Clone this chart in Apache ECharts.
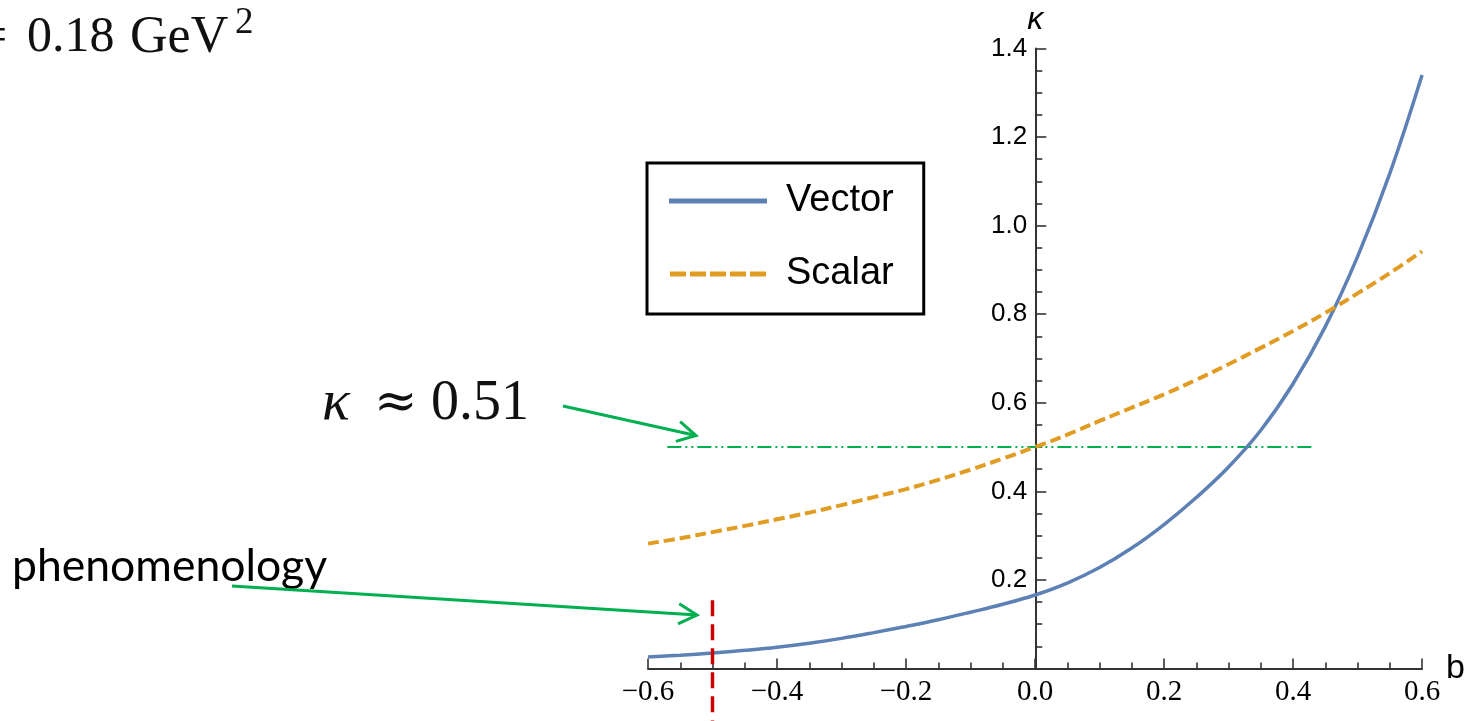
<!DOCTYPE html>
<html>
<head>
<meta charset="utf-8">
<script src="https://cdn.jsdelivr.net/npm/echarts@6/dist/echarts.min.js"></script>
<style>
html,body{margin:0;padding:0;background:#fff;}
#chart{width:1468px;height:721px;}
</style>
</head>
<body>
<div id="chart"></div>
<script>
// ---- data ----
const bValues = [-0.6,-0.55,-0.5,-0.45,-0.4,-0.35,-0.3,-0.25,-0.2,-0.15,-0.1,-0.05,0,0.05,0.1,0.15,0.2,0.25,0.3,0.35,0.4,0.45,0.5,0.55,0.6];
const vectorKappa = [0.026,0.030,0.035,0.041,0.048,0.057,0.068,0.081,0.095,0.110,0.127,0.145,0.166,0.193,0.228,0.272,0.325,0.386,0.455,0.538,0.643,0.772,0.930,1.118,1.340];
const scalarKappa = [0.282,0.294,0.308,0.322,0.337,0.352,0.369,0.387,0.405,0.426,0.449,0.474,0.500,0.528,0.559,0.589,0.619,0.652,0.687,0.724,0.762,0.803,0.847,0.893,0.942];
const kappaLineB = [-0.57, 0.43];
const kappaLineValue = [0.5, 0.5];
const phenoLineB = [-0.5, -0.5];
const phenoLineValue = [0.154, -0.118];
const yTicks = [0.2,0.4,0.6,0.8,1.0,1.2,1.4];
const seriesNames = ['Vector','Scalar'];

const GREEN = '#00B050';
const BLUE = '#5E81B5';
const ORANGE = '#E19C24';
function pairs(xs, ys){ return xs.map((x,i)=>[x, ys[i]]); }
function arrow(x1,y1,x2,y2,head,ang){
  const a = Math.atan2(y2-y1, x2-x1);
  const p1=[x2-head*Math.cos(a-ang), y2-head*Math.sin(a-ang)];
  const p2=[x2-head*Math.cos(a+ang), y2-head*Math.sin(a+ang)];
  return [
    {type:'polyline', shape:{points:[[x1,y1],[x2,y2]]}, style:{stroke:GREEN, lineWidth:3, fill:null}},
    {type:'polyline', shape:{points:[p1,[x2,y2],p2]}, style:{stroke:GREEN, lineWidth:3, fill:null}}
  ];
}

const gridLeft = 648, gridWidth = 774.5;
const chart = echarts.init(document.getElementById('chart'), null, {renderer:'canvas'});
const option = {
  animation:false,
  backgroundColor:'#fff',
  grid:{left:gridLeft, top:48.5, width:gridWidth, height:620, containLabel:false},
  xAxis:{
    type:'value', min:-0.6, max:0.6, interval:0.2,
    name:'b', nameLocation:'end', nameGap:10,
    nameTextStyle:{fontFamily:'Liberation Sans', fontSize:34, color:'#000', verticalAlign:'middle'},
    axisLine:{onZero:true, lineStyle:{color:'#333', width:2}},
    axisTick:{inside:true, length:10, lineStyle:{color:'#333', width:1.6}},
    minorTick:{show:true, splitNumber:4, length:6, lineStyle:{color:'#333', width:1.6}},
    splitLine:{show:false},
    axisLabel:{margin:9, showMinLabel:true, showMaxLabel:true, fontFamily:'Liberation Serif', fontSize:29, color:'#000',
      formatter:v=>{const r=Math.round(v*10)/10; return (r<0?'\u2212':'')+Math.abs(r).toFixed(1);}}
  },
  yAxis:{
    type:'value', min:0, max:1.4, interval:0.2, position:'left',
    offset: -(gridWidth/2),
    name:'\u03ba', nameLocation:'end', nameGap:11,
    nameTextStyle:{fontFamily:'Liberation Sans', fontStyle:'italic', fontSize:32, color:'#000', align:'center'},
    axisLine:{onZero:false, lineStyle:{color:'#333', width:2}},
    axisTick:{inside:true, length:11, lineStyle:{color:'#333', width:1.6}},
    minorTick:{show:true, splitNumber:4, length:7, lineStyle:{color:'#333', width:1.6}},
    splitLine:{show:false},
    axisLabel:{margin:8, fontFamily:'Liberation Sans', fontSize:26, color:'#000',
      formatter:v=>{const r=Math.round(v*10)/10; return yTicks.some(t=>Math.abs(t-r)<1e-9)? r.toFixed(1):'';}}
  },
  legend:{
    orient:'vertical', left:647, top:163,
    data:[
      {name:seriesNames[0], icon:'rect', itemStyle:{color:BLUE}},
      {name:seriesNames[1], icon:'path://M0,0h16v5h-16z M20,0h16v5h-16z M40,0h16v5h-16z M60,0h16v5h-16z M80,0h16v5h-16z', itemStyle:{color:ORANGE}}
    ],
    itemWidth:98, itemHeight:5, itemGap:33,
    padding:[18,30,20,22],
    borderColor:'#000', borderWidth:3, borderRadius:0, backgroundColor:'#fff',
    textStyle:{fontFamily:'Liberation Sans', fontSize:38, color:'#000', lineHeight:40, padding:[0,0,0,14]}
  },
  series:[
    {name:seriesNames[0], type:'line', data:pairs(bValues, vectorKappa), smooth:0.4, symbol:'none',
      lineStyle:{color:BLUE, width:3.5}, itemStyle:{color:BLUE}, z:3},
    {name:seriesNames[1], type:'line', data:pairs(bValues, scalarKappa), smooth:0.4, symbol:'none',
      lineStyle:{color:ORANGE, width:4, type:[11,5]}, itemStyle:{color:ORANGE}, z:3},
    {name:'kappa051', type:'line', data:pairs(kappaLineB, kappaLineValue), symbol:'none',
      lineStyle:{color:GREEN, width:2, type:[14,4,2,4,2,4]}, z:2, silent:true},
    {name:'pheno', type:'line', data:pairs(phenoLineB, phenoLineValue), symbol:'none', clip:false,
      lineStyle:{color:'#CC0000', width:3.5, type:[16,8]}, z:4, silent:true}
  ],
  graphic:[
    {type:'text', x:-21, y:38, style:{text:'=', font:'50px "Liberation Serif"', fill:'#111', verticalAlign:'middle'}},
    {type:'text', x:27, y:38, style:{text:'0.18', font:'50px "Liberation Serif"', fill:'#111', verticalAlign:'middle'}},
    {type:'text', x:130, y:38, style:{text:'GeV', font:'52px "Liberation Serif"', fill:'#111', verticalAlign:'middle'}},
    {type:'text', x:235, y:23, style:{text:'2', font:'37px "Liberation Serif"', fill:'#111', verticalAlign:'middle'}},
    {type:'text', x:322, y:404, style:{text:'\u03ba', font:'italic 58px "Liberation Serif"', fill:'#111', verticalAlign:'middle'}},
    {type:'text', x:374, y:404, style:{text:'\u2248', font:'52px "DejaVu Serif"', fill:'#111', verticalAlign:'middle'}},
    {type:'text', x:431, y:404, style:{text:'0.51', font:'56px "Liberation Serif"', fill:'#111', verticalAlign:'middle'}},
    {type:'text', x:12, y:567, style:{text:'phenomenology', font:'44.5px Lato', fill:'#000', verticalAlign:'middle'}},
    ...arrow(563,406,696,435.5,21,0.5),
    ...arrow(232,586,697,615,21,0.5)
  ]
};
chart.setOption(option);
</script>
</body>
</html>
